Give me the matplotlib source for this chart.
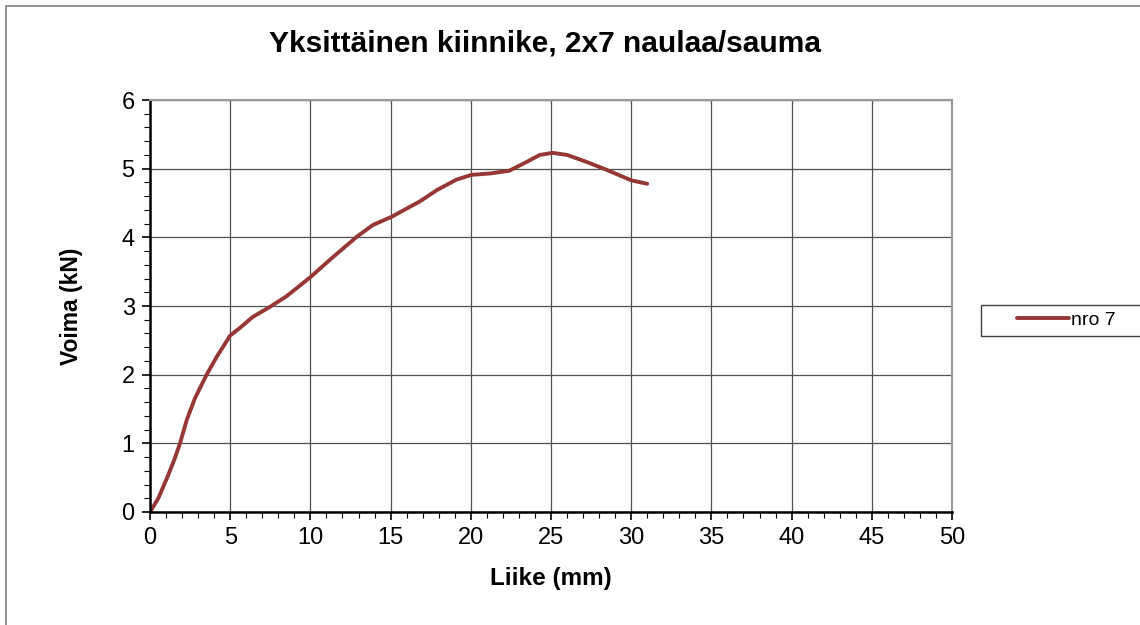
import matplotlib
matplotlib.use("Agg")
import matplotlib.pyplot as plt
from matplotlib.patches import Rectangle
from matplotlib.ticker import MultipleLocator

plt.rcParams['font.family'] = ['Liberation Sans', 'DejaVu Sans']

# nro 7 : liike (mm) / voima (kN)
liike = [0, 0.52, 1.14, 1.56, 1.87, 2.29, 2.81, 3.53, 4.16, 5.0, 5.6, 6.4,
         7.5, 8.5, 10.0, 11.2, 12.9, 13.9, 15.07, 16.8, 17.9, 19.1, 20.05,
         21.2, 22.4, 23.5, 24.3, 25.1, 26.0, 27.2, 28.5, 30.0, 31.0]
voima = [0, 0.20, 0.54, 0.79, 1.0, 1.34, 1.66, 2.0, 2.26, 2.57, 2.68, 2.84,
         2.99, 3.14, 3.42, 3.67, 4.01, 4.18, 4.30, 4.52, 4.69, 4.84, 4.91,
         4.93, 4.97, 5.10, 5.20, 5.23, 5.20, 5.10, 4.98, 4.83, 4.78]
sarja = "nro 7"

fig = plt.figure(figsize=(11.4, 6.25), dpi=100)
ax = fig.add_axes([150/1140, 113/625, 802/1140, 412/625])

#ulkoreunus
fig.patches.append(Rectangle((6/1140, -0.1), 2, (619/625) + 0.1, transform=fig.transFigure,
                             fill=False, edgecolor='#808080', linewidth=1.2))

ax.plot(liike, voima, color='#953735', linewidth=2.8, label=sarja,
        solid_capstyle='round', solid_joinstyle='round')

ax.set_xlim(0, 50)
ax.set_ylim(0, 6)
ax.xaxis.set_major_locator(MultipleLocator(5))
ax.xaxis.set_minor_locator(MultipleLocator(1))
ax.yaxis.set_major_locator(MultipleLocator(1))
ax.yaxis.set_minor_locator(MultipleLocator(0.2))
ax.tick_params(which='major', direction='out', length=6, width=1.2, labelsize=17, pad=5)
ax.tick_params(which='minor', direction='out', length=4, width=0.8)
ax.grid(True, which='major', color='#505050', linewidth=0.9)
ax.set_axisbelow(True)

for s in ['left', 'bottom']:
    ax.spines[s].set_linewidth(1.8)
    ax.spines[s].set_color('black')
for s in ['top', 'right']:
    ax.spines[s].set_linewidth(1.5)
    ax.spines[s].set_color('#999999')

ax.set_xlabel("Liike (mm)", fontsize=17.5, fontweight='bold', labelpad=13)
ax.set_ylabel("Voima (kN)", fontsize=16.5, fontweight='bold', labelpad=28)
fig.text(545/1140, 1 - 44/625, "Yksittäinen kiinnike, 2x7 naulaa/sauma", fontsize=21.5,
         fontweight='bold', ha='center', va='center')

# selite: kehys erikseen, jatkuu kuvan reunan yli
fig.patches.append(Rectangle((981/1140, 1 - 336/625), 200/1140, 31/625,
                             transform=fig.transFigure, fill=False,
                             edgecolor='#404040', linewidth=1.0))
leg = fig.legend(loc='center left', bbox_to_anchor=(1010/1140, 1 - 320/625),
                 fontsize=14, frameon=False, handlelength=2.7,
                 handletextpad=0.1, borderpad=0.35, borderaxespad=0)

plt.savefig("out.png", dpi=100)
